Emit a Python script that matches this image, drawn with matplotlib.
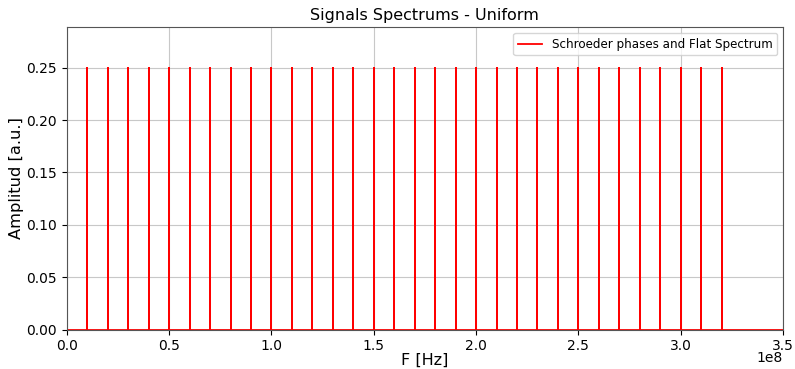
import matplotlib
matplotlib.use("Agg")
import matplotlib.pyplot as plt
import matplotlib.transforms as mtransforms

# tone frequencies [Hz] and flat amplitude
tone_freqs = [1e7, 2e7, 3e7, 4e7, 5e7, 6e7, 7e7, 8e7, 9e7, 1e8,
              1.1e8, 1.2e8, 1.3e8, 1.4e8, 1.5e8, 1.6e8, 1.7e8, 1.8e8, 1.9e8, 2e8,
              2.1e8, 2.2e8, 2.3e8, 2.4e8, 2.5e8, 2.6e8, 2.7e8, 2.8e8, 2.9e8, 3e8,
              3.1e8, 3.2e8]
tone_amps = [0.25] * len(tone_freqs)
f_max = 3.5e8

# build spectrum line: zero floor with spikes at each tone
freq = [0.0]
amp = [0.0]
for f, a in zip(tone_freqs, tone_amps):
    freq += [f, f, f]
    amp += [0.0, a, 0.0]
freq.append(f_max)
amp.append(0.0)

fig = plt.figure(figsize=(7.95, 3.69), dpi=100)
ax = fig.add_axes([0.084, 0.107, 0.901, 0.820])
ax.plot(freq, amp, color="red", lw=1.3, label="Schroeder phases and Flat Spectrum")
ax.set_xlim(0, f_max)
ax.set_ylim(0, 0.289)
ax.set_title("Signals Spectrums - Uniform", fontsize=11.5, pad=5)
ax.set_xlabel("F [Hz]", fontsize=11.5, labelpad=0)
ax.set_ylabel("Amplitud [a.u.]", fontsize=11.7, labelpad=2)
ax.tick_params(labelsize=10)

# pull the "1e8" offset text up close to the tick labels
off = ax.xaxis.get_offset_text()
off.set_fontsize(10)
off.set_transform(off.get_transform() + mtransforms.ScaledTranslation(0, 4.5 / 72, fig.dpi_scale_trans))

ax.grid(True, color="#c8c8c8", lw=0.8)
ax.set_axisbelow(True)
for s in ax.spines.values():
    s.set_color("#555555")
ax.legend(loc="upper right", fontsize=8.6)
fig.savefig("out.png", dpi=100)
